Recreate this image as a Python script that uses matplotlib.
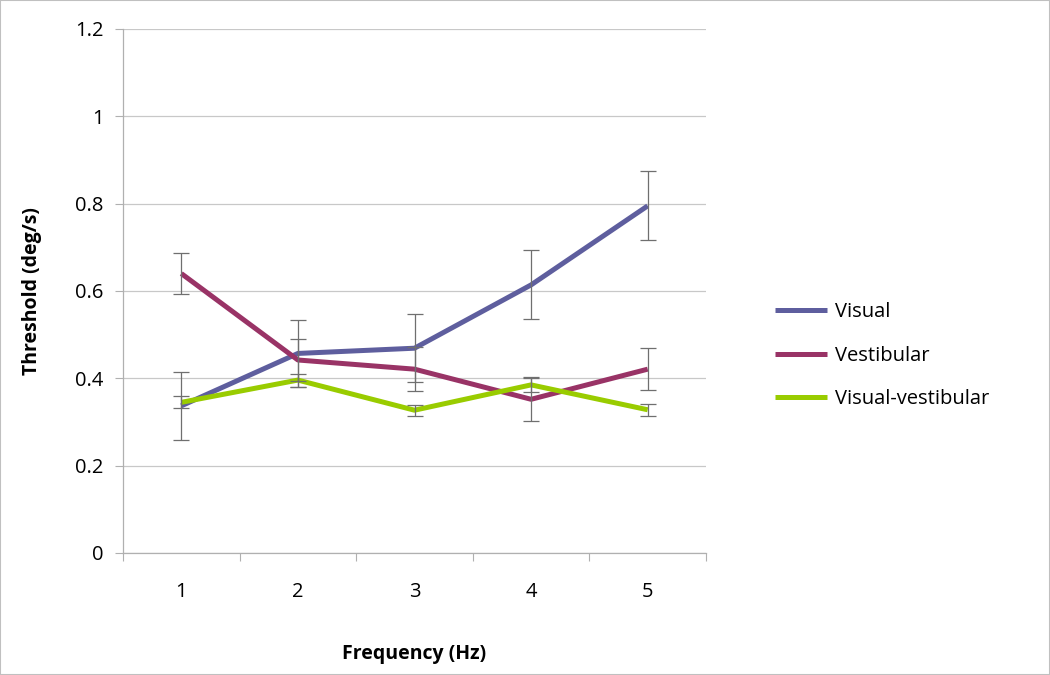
import matplotlib
matplotlib.use("Agg")
import matplotlib.pyplot as plt
from matplotlib.patches import Rectangle

frequencies = [1, 2, 3, 4, 5]
visual = [0.337, 0.457, 0.469, 0.614, 0.795]
visual_err = [0.078, 0.077, 0.078, 0.079, 0.079]
vestibular = [0.640, 0.442, 0.421, 0.352, 0.421]
vestibular_err = [0.048, 0.047, 0.050, 0.050, 0.048]
combined = [0.345, 0.396, 0.327, 0.385, 0.328]
combined_err = [0.014, 0.015, 0.013, 0.016, 0.014]
series_names = ["Visual", "Vestibular", "Visual-vestibular"]
colors = ["#5E5E9E", "#993366", "#99CC00"]
ytick_labels = ["0", "0.2", "0.4", "0.6", "0.8", "1", "1.2"]

plt.rcParams['font.family'] = ['Open Sans', 'DejaVu Sans']

fig = plt.figure(figsize=(10.5, 6.75), dpi=100)
ax = fig.add_axes([123/1050, 1 - 553/675, (706-123)/1050, (553-29)/675])

data = [(visual, visual_err), (vestibular, vestibular_err), (combined, combined_err)]
handles = []
for (vals, errs), name, c in zip(data, series_names, colors):
    h, = ax.plot(frequencies, vals, color=c, lw=3.6, solid_capstyle='butt', zorder=3, label=name)
    handles.append(h)
    ax.errorbar(frequencies, vals, yerr=errs, fmt='none', ecolor='#6f6f6f',
                elinewidth=0.9, capsize=5.5, capthick=0.9, zorder=4)

ax.set_xlim(0.5, 5.5)
ax.set_ylim(0, 1.2)
ax.set_yticks([0, 0.2, 0.4, 0.6, 0.8, 1.0, 1.2])
ax.set_yticklabels(ytick_labels)
ax.set_xticks(frequencies)
ax.set_xticklabels([str(f) for f in frequencies])
ax.set_xticks([0.5, 1.5, 2.5, 3.5, 4.5, 5.5], minor=True)
ax.tick_params(axis='x', which='major', length=0, pad=21, labelsize=14.5)
ax.tick_params(axis='x', which='minor', length=6, color='#b0b0b0', width=0.8)
ax.tick_params(axis='y', which='major', length=6, color='#b0b0b0', width=0.8, pad=8, labelsize=14.5)

ax.grid(axis='y', color='#c8c8c8', lw=0.9)
ax.set_axisbelow(True)
for s in ['top', 'right']:
    ax.spines[s].set_visible(False)
for s in ['left', 'bottom']:
    ax.spines[s].set_color('#b0b0b0')
    ax.spines[s].set_linewidth(0.9)

ax.set_xlabel("Frequency (Hz)", fontsize=14, fontweight='bold', labelpad=30)
ax.set_ylabel("Threshold (deg/s)", fontsize=14, fontweight='bold', labelpad=24)

fig.legend(handles=handles, labels=series_names, loc='upper left',
           bbox_to_anchor=(757/1050, 1 - 284/675), frameon=False, fontsize=14.5,
           handlelength=2.6, handletextpad=0.35, labelspacing=1.17)

fig.patches.append(Rectangle((0, 0), 1, 1, transform=fig.transFigure, fill=False,
                             edgecolor='#c0c0c0', lw=1.5))

fig.savefig("out.png", dpi=100)
